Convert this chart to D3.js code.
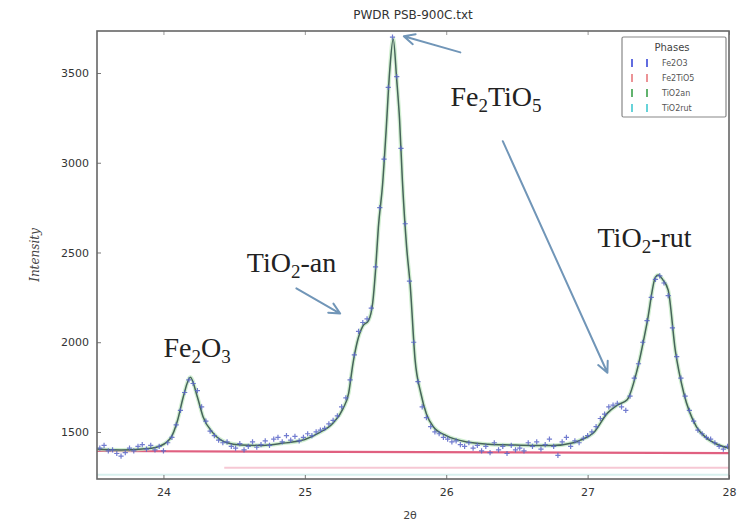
<!DOCTYPE html>
<html>
<head>
<meta charset="utf-8">
<script src="https://cdn.jsdelivr.net/npm/d3@7"></script>
<style>
  html, body { margin: 0; padding: 0; background: #fff; }
  svg { display: block; }
</style>
</head>
<body>
<svg id="chart" width="738" height="522"></svg>
<script>
// Observed profile: 2θ grid start/step and measured counts
const obsStart = 23.55;
const obsStep = 0.03;
const obsIntensity = [
  1410, 1425, 1395, 1400, 1380, 1365, 1385, 1410, 1395, 1420,
  1430, 1405, 1425, 1400, 1420, 1395, 1440, 1470, 1540, 1620,
  1720, 1790, 1770, 1730, 1640, 1560, 1505, 1480, 1455, 1440,
  1445, 1420, 1410, 1435, 1400, 1420, 1445, 1415, 1430, 1450,
  1425, 1460, 1470, 1445, 1480, 1455, 1475, 1450, 1470, 1490,
  1480, 1500, 1510, 1520, 1545, 1565, 1590, 1640, 1690, 1790,
  1930, 2060, 2110, 2130, 2190, 2420, 2750, 3020, 3420, 3700,
  3480, 3080, 2660, 2340, 2000, 1780, 1640, 1580, 1530, 1500,
  1490, 1470, 1460, 1445, 1450, 1430, 1420, 1440, 1410, 1425,
  1395, 1420, 1385, 1440, 1400, 1420, 1380, 1425, 1400, 1410,
  1395, 1440, 1420, 1445, 1405, 1430, 1460, 1420, 1370, 1445,
  1470, 1420, 1450, 1440, 1465, 1480, 1500, 1530, 1575, 1600,
  1640, 1650, 1660, 1640, 1620, 1700, 1800, 1880, 2000, 2120,
  2250, 2350, 2370, 2330, 2260, 2080, 1920, 1800, 1700, 1620,
  1560, 1510, 1490, 1470, 1460, 1440, 1420, 1405, 1420
];

// Calculated profile (2θ, intensity)
const calcTwoTheta = [
  23.53, 23.7, 23.85, 23.95, 24.05, 24.1, 24.14, 24.19, 24.24, 24.28,
  24.35, 24.45, 24.55, 24.7, 24.85, 25.0, 25.1, 25.2, 25.27, 25.31,
  25.34, 25.37, 25.41, 25.45, 25.48, 25.5, 25.52, 25.55, 25.575, 25.6,
  25.625, 25.65, 25.67, 25.69, 25.72, 25.745, 25.78, 25.82, 25.86, 25.91,
  26.0, 26.15, 26.3, 26.45, 26.6, 26.75, 26.9, 26.95, 27.04, 27.14,
  27.21, 27.28, 27.35, 27.42, 27.48, 27.5, 27.53, 27.57, 27.62, 27.68,
  27.77, 27.84, 27.92, 28.0
];
const calcIntensity = [
  1405, 1400, 1405, 1415, 1465, 1565, 1695, 1805, 1695, 1585,
  1495, 1440, 1428, 1425, 1438, 1458, 1495, 1550, 1630, 1717,
  1880, 2000, 2090, 2120, 2220, 2400, 2640, 2880, 3180, 3510,
  3690, 3460, 3240, 2900, 2530, 2320, 1900, 1717, 1600, 1528,
  1480, 1444, 1432, 1428, 1425, 1425, 1440, 1455, 1494, 1605,
  1650, 1680, 1845, 2107, 2363, 2375, 2350, 2290, 1956, 1717,
  1528, 1467, 1430, 1410
];

// Background (linear)
const bkgTwoTheta = [23.53, 28.0];
const bkgIntensity = [1394, 1382];

// Axis ticks
const xTicks = [24, 25, 26, 27, 28];
const yTicks = [1500, 2000, 2500, 3000, 3500];

// Phases shown in the legend
const phaseNames = ["Fe2O3", "Fe2TiO5", "TiO2an", "TiO2rut"];
const phaseColors = ["#3a48d8", "#e8787c", "#3aa04a", "#40c8d0"];

// Peak labels: text parts [text, isSubscript], anchored at baseline-left in data space
const annotations = [
  { parts: [["Fe", false], ["2", true], ["O", false], ["3", true]], x: 24.0, y: 1915 },
  { parts: [["TiO", false], ["2", true], ["-an", false]], x: 24.59, y: 2390 },
  { parts: [["Fe", false], ["2", true], ["TiO", false], ["5", true]], x: 26.03, y: 3315 },
  { parts: [["TiO", false], ["2", true], ["-rut", false]], x: 27.07, y: 2530 }
];
// Arrows: tail (x0,y0) -> head (x1,y1) in data space
const arrows = [
  { x0: 24.94, y0: 2300, x1: 25.25, y1: 2160 },
  { x0: 26.1, y0: 3615, x1: 25.7, y1: 3705 },
  { x0: 26.4, y0: 3120, x1: 27.14, y1: 1830 }
];

const svg = d3.select("#chart");
const W = 738, H = 522;
const margin = { left: 97, top: 31, right: 9, bottom: 43 };
const iw = W - margin.left - margin.right;
const ih = H - margin.top - margin.bottom;

const x = d3.scaleLinear().domain([23.53, 28.0]).range([0, iw]);
const y = d3.scaleLinear().domain([1238, 3734]).range([ih, 0]);

const g = svg.append("g").attr("transform", `translate(${margin.left},${margin.top})`);

// Title
svg.append("text")
  .attr("x", 413).attr("y", 19)
  .attr("text-anchor", "middle")
  .attr("font-family", "DejaVu Sans, sans-serif")
  .attr("font-size", 12)
  .attr("fill", "#333")
  .text("PWDR PSB-900C.txt");

const clip = svg.append("defs").append("clipPath").attr("id", "plotclip");
clip.append("rect").attr("width", iw).attr("height", ih);

const plot = g.append("g").attr("clip-path", "url(#plotclip)");

// Faint reflection-row lines below the pattern
plot.append("line")
  .attr("x1", x(24.43)).attr("x2", x(28))
  .attr("y1", y(1300)).attr("y2", y(1300))
  .attr("stroke", "#f6c8d4").attr("stroke-width", 2);
plot.append("line")
  .attr("x1", x(23.53)).attr("x2", x(28))
  .attr("y1", y(1262)).attr("y2", y(1262))
  .attr("stroke", "#d8f0ee").attr("stroke-width", 2);

// Background line
plot.append("line")
  .attr("x1", x(bkgTwoTheta[0])).attr("x2", x(bkgTwoTheta[1]))
  .attr("y1", y(bkgIntensity[0])).attr("y2", y(bkgIntensity[1]))
  .attr("stroke", "#e06080").attr("stroke-width", 2.2);

// Calculated curve
const calcData = calcTwoTheta.map((t, i) => [t, calcIntensity[i]]);
const line = d3.line().x(d => x(d[0])).y(d => y(d[1])).curve(d3.curveMonotoneX);
plot.append("path").datum(calcData)
  .attr("d", line).attr("fill", "none")
  .attr("stroke", "#bfe8bf").attr("stroke-width", 4).attr("opacity", 0.7);
plot.append("path").datum(calcData)
  .attr("d", line).attr("fill", "none")
  .attr("stroke", "#46645a").attr("stroke-width", 1.5);

// Observed points as '+' markers
const obsData = obsIntensity.map((v, i) => [obsStart + i * obsStep, v]);
const s = 2.6;
plot.append("g").selectAll("path").data(obsData).join("path")
  .attr("d", d => {
    const px = x(d[0]), py = y(d[1]);
    return `M${px - s},${py}H${px + s}M${px},${py - s}V${py + s}`;
  })
  .attr("stroke", "#5a66c8").attr("stroke-width", 1.2).attr("opacity", 0.85);

// Axes (ticks pointing inward)
const xAxis = g.append("g").attr("transform", `translate(0,${ih})`)
  .call(d3.axisBottom(x).tickValues(xTicks).tickSizeInner(-4).tickSizeOuter(0).tickPadding(9).tickFormat(d3.format("d")));
const yAxis = g.append("g")
  .call(d3.axisLeft(y).tickValues(yTicks).tickSizeInner(-4).tickSizeOuter(0).tickPadding(8).tickFormat(d3.format("d")));
[xAxis, yAxis].forEach(a => {
  a.select(".domain").remove();
  a.selectAll(".tick line").attr("stroke", "#777");
  a.selectAll(".tick text")
    .attr("font-family", "DejaVu Sans, sans-serif")
    .attr("font-size", 11).attr("fill", "#333");
});
// Top ticks
g.append("g")
  .call(d3.axisTop(x).tickValues(xTicks).tickSizeInner(-4).tickSizeOuter(0).tickFormat(""))
  .call(a => { a.select(".domain").remove(); a.selectAll(".tick line").attr("stroke", "#999"); });

// Frame
g.append("rect").attr("width", iw).attr("height", ih)
  .attr("fill", "none").attr("stroke", "#666").attr("stroke-width", 1.6);

// Axis titles
svg.append("text")
  .attr("x", 410).attr("y", 519)
  .attr("text-anchor", "middle")
  .attr("font-family", "DejaVu Sans, sans-serif")
  .attr("font-size", 11).attr("fill", "#444")
  .text("2θ");
svg.append("text")
  .attr("transform", "translate(39,255) rotate(-90)")
  .attr("text-anchor", "middle")
  .attr("font-family", "DejaVu Serif, serif")
  .attr("font-style", "italic")
  .attr("font-size", 12).attr("fill", "#444")
  .text("Intensity");

// Legend
const lg = svg.append("g").attr("transform", "translate(622,37)");
lg.append("rect").attr("width", 104).attr("height", 80)
  .attr("fill", "#fff").attr("stroke", "#888").attr("stroke-width", 1.2).attr("rx", 1.5);
lg.append("text").attr("x", 50).attr("y", 14)
  .attr("text-anchor", "middle")
  .attr("font-family", "DejaVu Sans, sans-serif")
  .attr("font-size", 10).attr("fill", "#444")
  .text("Phases");
phaseNames.forEach((name, i) => {
  const yy = 26 + i * 15;
  [10, 25].forEach(dx => {
    lg.append("line").attr("x1", dx).attr("x2", dx).attr("y1", yy - 4).attr("y2", yy + 4)
      .attr("stroke", phaseColors[i]).attr("stroke-width", 1.6);
  });
  lg.append("text").attr("x", 40).attr("y", yy + 3)
    .attr("font-family", "DejaVu Sans, sans-serif")
    .attr("font-size", 8).attr("fill", "#555")
    .text(name);
});

// Peak labels with subscripts
annotations.forEach(a => {
  const t = svg.append("text")
    .attr("x", margin.left + x(a.x)).attr("y", margin.top + y(a.y))
    .attr("font-family", "Liberation Serif, Times New Roman, serif")
    .attr("font-size", 28).attr("fill", "#222");
  let lowered = false;
  a.parts.forEach(([txt, sub]) => {
    const ts = t.append("tspan").text(txt);
    if (sub) { ts.attr("font-size", 19).attr("dy", 6); lowered = true; }
    else if (lowered) { ts.attr("dy", -6); lowered = false; }
  });
});

// Arrows with open heads
arrows.forEach(a => {
  const x0 = margin.left + x(a.x0), y0 = margin.top + y(a.y0);
  const x1 = margin.left + x(a.x1), y1 = margin.top + y(a.y1);
  const ang = Math.atan2(y1 - y0, x1 - x0);
  const L = 12, spread = 0.45;
  const p1 = [x1 - L * Math.cos(ang - spread), y1 - L * Math.sin(ang - spread)];
  const p2 = [x1 - L * Math.cos(ang + spread), y1 - L * Math.sin(ang + spread)];
  svg.append("path")
    .attr("d", `M${x0},${y0}L${x1},${y1}M${p1[0]},${p1[1]}L${x1},${y1}L${p2[0]},${p2[1]}`)
    .attr("fill", "none").attr("stroke", "#7196b8").attr("stroke-width", 2)
    .attr("stroke-linecap", "round").attr("stroke-linejoin", "round");
});
</script>
</body>
</html>
